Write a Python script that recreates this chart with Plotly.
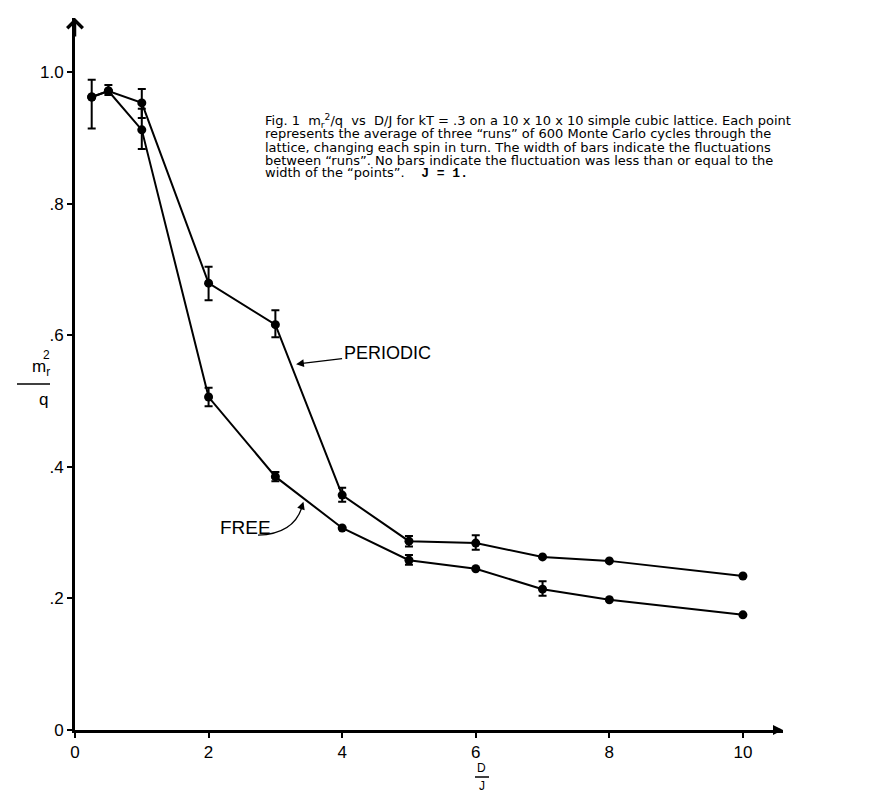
import plotly.graph_objects as go

# ---- data ----
d_over_j = [0.25, 0.5, 1, 2, 3, 4, 5, 6, 7, 8, 10]

periodic = [0.962, 0.971, 0.953, 0.679, 0.616, 0.357, 0.287, 0.284, 0.263, 0.257, 0.234]
periodic_err_plus = [0.0, 0.009, 0.021, 0.025, 0.022, 0.011, 0.008, 0.012, 0.0, 0.0, 0.0]
periodic_err_minus = [0.0, 0.006, 0.023, 0.026, 0.019, 0.010, 0.008, 0.010, 0.0, 0.0, 0.0]

free = [0.962, 0.971, 0.912, 0.506, 0.385, 0.307, 0.258, 0.245, 0.214, 0.198, 0.175]
free_err_plus = [0.026, 0.0, 0.032, 0.014, 0.007, 0.0, 0.008, 0.0, 0.012, 0.0, 0.0]
free_err_minus = [0.048, 0.0, 0.029, 0.014, 0.007, 0.0, 0.007, 0.0, 0.010, 0.0, 0.0]

x_ticks = [0, 2, 4, 6, 8, 10]
x_tick_text = ["0", "2", "4", "6", "8", "10"]
y_ticks = [0, 0.2, 0.4, 0.6, 0.8, 1.0]
y_tick_text = ["0", ".2", ".4", ".6", ".8", "1.0"]

caption_lines = [
    "Fig. 1\u00a0 m<sub>r</sub><sup>2</sup>/q\u00a0 vs\u00a0 D/J for kT = .3 on a 10 x 10 x 10 simple cubic lattice. Each point",
    "represents the average of three \u201cruns\u201d of 600 Monte Carlo cycles through the",
    "lattice, changing each spin in turn. The width of bars indicate the fluctuations",
    "between \u201cruns\u201d. No bars indicate the fluctuation was less than or equal to the",
    "width of the \u201cpoints\u201d.\u00a0\u00a0\u00a0 <span style='font-family:Liberation Mono'><b>J = 1.</b></span>",
]

# ---- layout geometry (pixels) ----
W, H = 871, 792
L, R, T, B = 67, 96, 10, 70
PW, PH = W - L - R, H - T - B
XMAX = 10.6
YMAX = 1.082


def pxx(p):
    return (p - L) / PW


def pxy(p):
    return (H - B - p) / PH


FONT = "Liberation Sans, Arial, sans-serif"
CAP_FONT = "DejaVu Sans, Liberation Sans, sans-serif"

fig = go.Figure()

line_style = dict(color="black", width=2)
marker_style = dict(color="black", size=9, symbol="circle")

fig.add_trace(go.Scatter(
    x=d_over_j, y=periodic, mode="lines+markers", name="PERIODIC",
    line=line_style, marker=marker_style,
    error_y=dict(type="data", symmetric=False, array=periodic_err_plus,
                 arrayminus=periodic_err_minus, color="black", thickness=2, width=4),
))
fig.add_trace(go.Scatter(
    x=d_over_j, y=free, mode="lines+markers", name="FREE",
    line=line_style, marker=marker_style,
    error_y=dict(type="data", symmetric=False, array=free_err_plus,
                 arrayminus=free_err_minus, color="black", thickness=2, width=4),
))

annotations = []

# caption, one line per annotation for tight leading
cap_y = [113, 126, 139, 152, 165]
for txt, yy in zip(caption_lines, cap_y):
    annotations.append(dict(
        x=pxx(255), y=pxy(yy), xref="paper", yref="paper", xanchor="left", yanchor="middle",
        text=txt, showarrow=False, align="left",
        font=dict(family=CAP_FONT, size=13, color="black"),
    ))

# PERIODIC label with arrow
annotations.append(dict(
    x=3.31, y=0.556, xref="x", yref="y", text="PERIODIC", showarrow=True,
    ax=91, ay=-11, arrowhead=2, arrowsize=1.2, arrowwidth=1.3, arrowcolor="black",
    font=dict(family=FONT, size=18, color="black"),
))
# FREE label
annotations.append(dict(
    x=pxx(210), y=pxy(532), xref="paper", yref="paper", text="FREE", showarrow=False,
    font=dict(family=FONT, size=19, color="black"),
))
# arrowhead for curved FREE arrow
annotations.append(dict(
    x=3.42, y=0.347, xref="x", yref="y", text="", showarrow=True,
    ax=-3, ay=9, arrowhead=2, arrowsize=1.2, arrowwidth=1.3, arrowcolor="black",
))

# axis arrowheads
annotations.append(dict(
    x=0, y=YMAX, xref="x", yref="y", text="", showarrow=True,
    ax=0, ay=20, arrowhead=4, arrowsize=1.2, arrowwidth=2.5, arrowcolor="black",
))
annotations.append(dict(
    x=XMAX, y=0, xref="x", yref="y", text="", showarrow=True,
    ax=-10, ay=0, arrowhead=2, arrowsize=0.8, arrowwidth=2.5, arrowcolor="black",
))

# y-axis title as a fraction  m_r^2 / q
annotations.append(dict(
    x=pxx(22), y=pxy(360), xref="paper", yref="paper", text="m<sub>r</sub>", showarrow=False,
    font=dict(family=FONT, size=17, color="black"),
))
annotations.append(dict(
    x=pxx(33), y=pxy(347), xref="paper", yref="paper", text="2", showarrow=False,
    font=dict(family=FONT, size=12, color="black"),
))
annotations.append(dict(
    x=pxx(29), y=pxy(391), xref="paper", yref="paper", text="q", showarrow=False,
    font=dict(family=FONT, size=17, color="black"),
))
# x-axis title as a fraction D / J
annotations.append(dict(
    x=pxx(474), y=pxy(768), xref="paper", yref="paper", yanchor="bottom",
    text="D", showarrow=False, borderpad=0,
    font=dict(family=FONT, size=12, color="black"),
))
annotations.append(dict(
    x=pxx(474), y=pxy(770), xref="paper", yref="paper", yanchor="top",
    text="J", showarrow=False, borderpad=0,
    font=dict(family=FONT, size=12, color="black"),
))

shapes = [
    # fraction bar of y title
    dict(type="line", xref="paper", yref="paper", x0=pxx(9), x1=pxx(42),
         y0=pxy(376), y1=pxy(376), line=dict(color="black", width=1.5)),
    # fraction bar of x title
    dict(type="line", xref="paper", yref="paper", x0=pxx(467), x1=pxx(481),
         y0=pxy(769), y1=pxy(769), line=dict(color="black", width=1.5)),
    # curved FREE arrow
    dict(type="path", xref="x", yref="y",
         path="M 2.74,0.296 Q 3.3,0.298 3.41,0.343",
         line=dict(color="black", width=1.3)),
]

fig.update_layout(
    width=W, height=H,
    margin=dict(l=L, r=R, t=T, b=B),
    paper_bgcolor="white", plot_bgcolor="white",
    showlegend=False,
    annotations=annotations,
    shapes=shapes,
    font=dict(family=FONT, color="black"),
    xaxis=dict(
        range=[0, XMAX], showgrid=False, zeroline=False,
        showline=True, linewidth=3, linecolor="black",
        tickvals=x_ticks, ticktext=x_tick_text,
        ticks="outside", ticklen=5, tickwidth=1.5, tickcolor="black",
        tickfont=dict(family=FONT, size=17, color="black"),
    ),
    yaxis=dict(
        range=[0, YMAX], showgrid=False, zeroline=False,
        showline=True, linewidth=3, linecolor="black",
        tickvals=y_ticks, ticktext=y_tick_text,
        ticks="outside", ticklen=5, tickwidth=1.5, tickcolor="black",
        tickfont=dict(family=FONT, size=17, color="black"),
    ),
)

fig.write_html("out.html")
